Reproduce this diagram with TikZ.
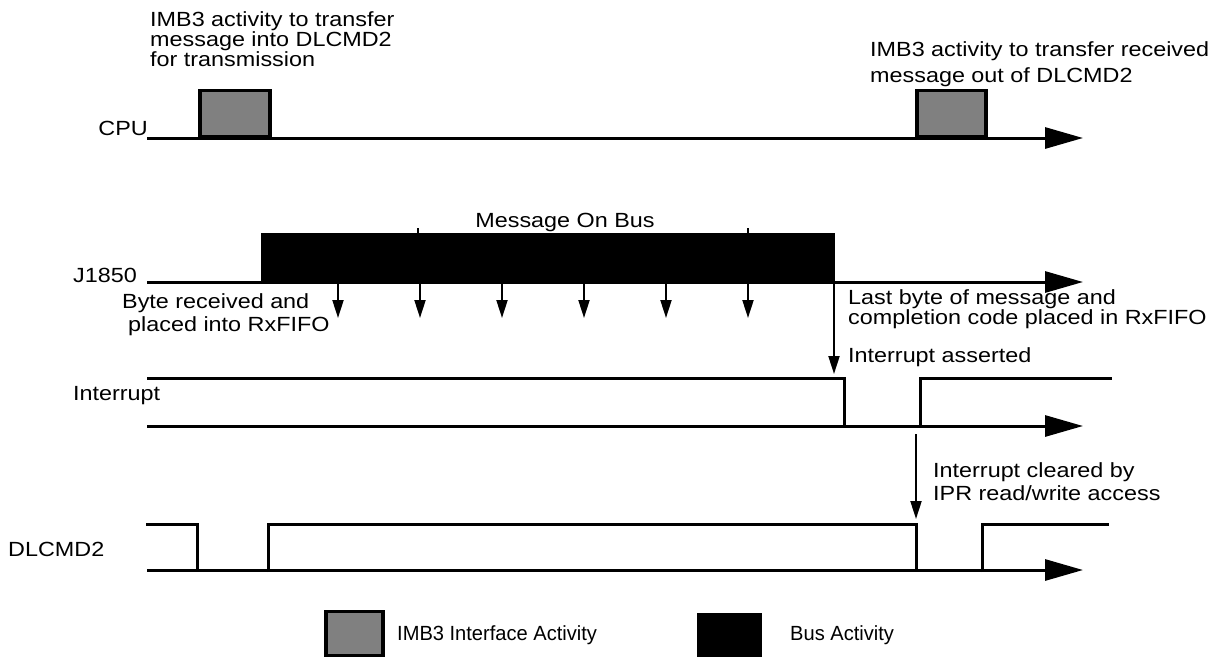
\documentclass[tikz,border=0pt]{standalone}
\usepackage{fontspec}
\setmainfont{Liberation Sans}[FakeStretch=1.14]
\newfontfamily\legfont{Liberation Sans}[FakeStretch=0.98]
\usetikzlibrary{arrows.meta}
\definecolor{imbgray}{RGB}{128,128,128}
\begin{document}
\begin{tikzpicture}[x=1pt,y=-1pt,
  lbl/.style={inner sep=0pt,anchor=base west,font=\fontsize{20.5}{19}\selectfont},
  leg/.style={inner sep=0pt,anchor=base west,font=\legfont\fontsize{20.5}{19}\selectfont},
  sig/.style={line width=3pt},
  axis/.style={line width=3pt,-{Triangle[length=38pt,width=21pt]}},
  evt/.style={line width=2pt,-{Triangle[length=18pt,width=11pt]}},
  imbbox/.style={draw=black,line width=3.5pt,fill=imbgray,inner sep=0pt,anchor=south west},
  busbox/.style={fill=black,inner sep=0pt,anchor=south west},
]
\useasboundingbox (0,0) rectangle (1221,659);

% ---------- CPU row ----------
\coordinate (cpuS) at (147,138);
\coordinate (cpuE) at (1083,138);
\node[imbbox,minimum width=70pt,minimum height=46pt] (cpuBoxA) at (198,138) {};
\node[imbbox,minimum width=69pt,minimum height=46pt] (cpuBoxB) at (915,138) {};
\draw[axis] (cpuS) -- (cpuE);
\node[lbl,anchor=base east] (cpuLbl) at (148,135) {CPU};
\node[lbl] (txA1) at (150,26) {IMB3 activity to transfer};
\node[lbl] (txA2) at (150,46) {message into DLCMD2};
\node[lbl] (txA3) at (150,66) {for transmission};
\node[lbl] (rxA1) at (870,56) {IMB3 activity to transfer received};
\node[lbl] (rxA2) at (870,82) {message out of DLCMD2};

% ---------- J1850 row ----------
\coordinate (jS) at (147,282);
\coordinate (jE) at (1083,282);
\draw[axis] (jS) -- (jE);
\node[busbox,minimum width=574pt,minimum height=49pt] (busBox) at (261,282) {};
\coordinate (tkA0) at (418,228); \coordinate (tkA1) at (418,234);
\coordinate (tkB0) at (748,228); \coordinate (tkB1) at (748,234);
\draw[line width=1.5pt] (tkA0) -- (tkA1);
\draw[line width=1.5pt] (tkB0) -- (tkB1);
\node[lbl,anchor=base] (msgLbl) at (565,227) {Message On Bus};
\node[lbl] (jLbl) at (73,282) {J1850};
\foreach \i/\x in {1/338,2/420,3/502,4/584,5/666,6/748}{
  \coordinate (bt\i) at (\x,282);
  \coordinate (bh\i) at (\x,318);
  \draw[evt] (bt\i) -- (bh\i);
}
\node[lbl] (byteA) at (122,308) {Byte received and};
\node[lbl] (byteB) at (128,331) {placed into RxFIFO};
\node[lbl] (lastA) at (848,304) {Last byte of message and};
\node[lbl] (lastB) at (848,324) {completion code placed in RxFIFO};
\node[lbl] (assLbl) at (848,362) {Interrupt asserted};
\coordinate (asS) at (834,282);
\coordinate (asE) at (834,374);
\draw[evt] (asS) -- (asE);

% ---------- Interrupt row ----------
\coordinate (iS) at (147,426);
\coordinate (iE) at (1083,426);
\draw[axis] (iS) -- (iE);
\coordinate (iw0) at (147,378);
\coordinate (iw1) at (844,378);
\coordinate (iw2) at (844,426);
\coordinate (iw3) at (920,426);
\coordinate (iw4) at (920,378);
\coordinate (iw5) at (1112,378);
\draw[sig] (iw0) -- (iw1) -- (iw2);
\draw[sig] (iw3) -- (iw4) -- (iw5);
\node[lbl] (intLbl) at (73,400) {Interrupt};
\coordinate (clS) at (916,434);
\coordinate (clE) at (916,519);
\draw[evt] (clS) -- (clE);
\node[lbl] (clA) at (933,477) {Interrupt cleared by};
\node[lbl] (clB) at (933,500) {IPR read/write access};

% ---------- DLCMD2 row ----------
\coordinate (dS) at (147,570);
\coordinate (dE) at (1083,570);
\draw[axis] (dS) -- (dE);
\coordinate (dw0) at (146,524);
\coordinate (dw1) at (197,524);
\coordinate (dw2) at (197,570);
\coordinate (dw3) at (268,572);
\coordinate (dw4) at (268,524);
\coordinate (dw5) at (916,524);
\coordinate (dw6) at (916,570);
\coordinate (dw7) at (982,572);
\coordinate (dw8) at (982,524);
\coordinate (dw9) at (1109,524);
\draw[sig] (dw0) -- (dw1) -- (dw2);
\draw[sig] (dw3) -- (dw4) -- (dw5) -- (dw6);
\draw[sig] (dw7) -- (dw8) -- (dw9);
\node[lbl] (dLbl) at (8,556) {DLCMD2};

% ---------- Legend ----------
\node[imbbox,minimum width=57pt,minimum height=44pt] (legImb) at (324,657) {};
\node[leg] (legImbLbl) at (397,640) {IMB3 Interface Activity};
\node[busbox,minimum width=65pt,minimum height=44pt] (legBus) at (697,657) {};
\node[leg] (legBusLbl) at (790,640) {Bus Activity};
\end{tikzpicture}
\end{document}
